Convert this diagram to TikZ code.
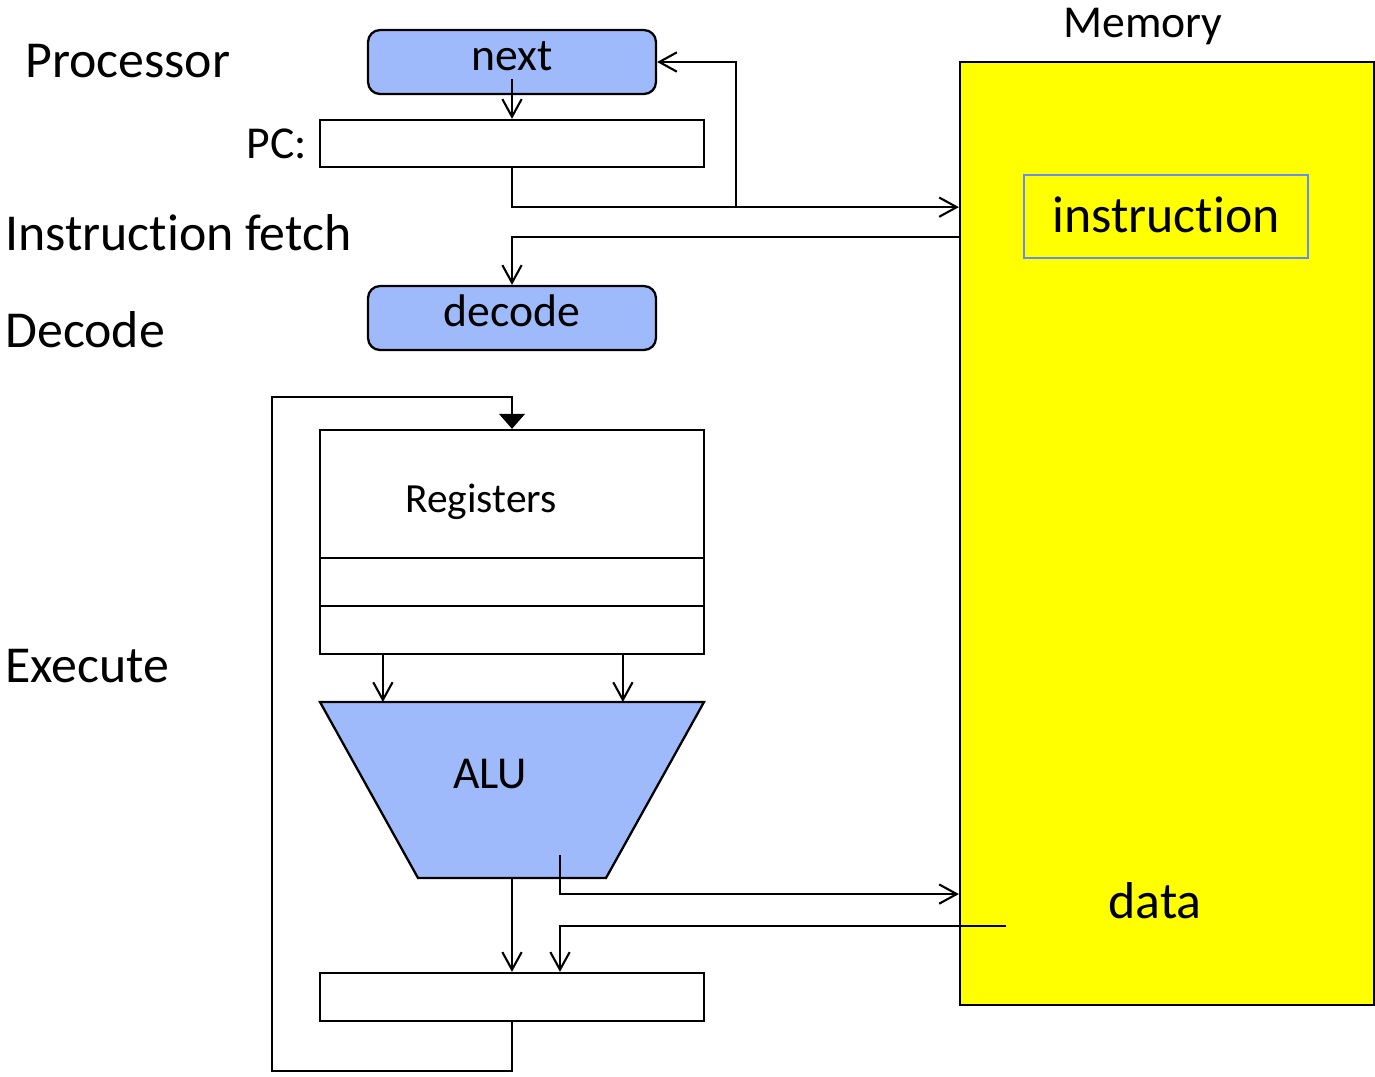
\documentclass[tikz,border=0pt]{standalone}
\usepackage{fontspec}
\setmainfont{Carlito}[Ligatures={NoCommon,NoContextual},RawFeature=-calt]
\usetikzlibrary{arrows.meta,calc}

\definecolor{boxblue}{RGB}{159,186,250}
\definecolor{memyellow}{RGB}{255,255,0}
\definecolor{instblue}{RGB}{100,140,250}

\tikzset{
  big/.style={font=\fontsize{29.5}{34}\selectfont},
  mid/.style={font=\fontsize{26}{30}\selectfont},
  lbl/.style={big, inner sep=0pt, anchor=base west},
  bluebox/.style={draw, line width=1.3pt, fill=boxblue, rounded corners=0.24cm,
    minimum width=5.76cm, minimum height=1.28cm, inner sep=0pt, mid,
    text height=20pt, text depth=10.5pt},
  plainbox/.style={draw, line width=1.3pt, fill=white, minimum width=7.68cm, inner sep=0pt},
  wire/.style={line width=1.2pt, -{Straight Barb[length=10pt,width=11pt,line width=1.2pt]}},
  feed/.style={line width=1.2pt, -{Triangle[length=8.5pt,width=14.5pt]}}
}

\begin{document}
\begin{tikzpicture}[x=0.02cm,y=-0.02cm]
  \useasboundingbox (0,0) rectangle (1375,1076);

  % stage labels
  \node[lbl] (proc)  at (25,77)  {Processor};
  \node[lbl] (fetch) at (5,250)  {Instruction fetch};
  \node[lbl] (dec)   at (5,347)  {Decode};
  \node[lbl] (exe)   at (5,682)  {Execute};

  % memory
  \node[draw, line width=1.3pt, fill=memyellow, minimum width=8.28cm, minimum height=18.86cm] (mem) at (1167,533.5) {};
  \node[mid, inner sep=0pt, anchor=base] (memlbl) at (1143,37) {Memory};
  \node[draw=instblue, line width=0.7pt, minimum width=5.68cm, minimum height=1.66cm, big,
    text height=22pt, text depth=3.3pt] (inst) at (1166,216.5) {instruction};
  \node[big, inner sep=0pt, anchor=base] (data) at (1155,918) {data};

  % fetch
  \node[bluebox] (next) at (512,62) {next};
  \node[plainbox, minimum height=0.94cm] (pc) at (512,143.5) {};
  \node[mid, inner sep=0pt, anchor=base east] (pclbl) at (307,158) {PC:};
  \node[bluebox] (decode) at (512,318) {decode};

  % registers
  \node[plainbox, minimum height=2.56cm] (reg1) at (512,494) {};
  \node[plainbox, minimum height=0.96cm] (reg2) at (512,582) {};
  \node[plainbox, minimum height=0.96cm] (reg3) at (512,630) {};
  \node[font=\fontsize{23.6}{28}\selectfont, inner sep=0pt, anchor=base] (reglbl) at (481,512) {Registers};

  % ALU
  \draw[line width=1.3pt, fill=boxblue] (320,702) coordinate (alutl) -- (704,702) coordinate (alutr)
    -- (606,878) coordinate (alubr) -- (418,878) coordinate (alubl) -- cycle;
  \node[mid, inner sep=0pt, anchor=base] (alu) at (490,788) {ALU};

  % result register
  \node[plainbox, minimum height=0.96cm] (outbox) at (512,997) {};

  % wires
  \draw[wire] ($(next.south)+(0,-16)$) -- (pc.north);
  \draw[wire] (pc.south) -- ++(0,39) coordinate (pcj) -- (pcj -| mem.west);
  \draw[wire] ($(pcj)+(224,0)$) |- (next.east);
  \draw[wire] ($(mem.north west)+(0,176)$) -| (decode.north);

  \coordinate (regL) at ($(reg3.south west)+(64,0)$);
  \coordinate (regR) at ($(reg3.south west)+(304,0)$);
  \draw[wire] (regL) -- (regL |- alutl);
  \draw[wire] (regR) -- (regR |- alutl);

  \coordinate (alubot) at ($(alubl)!0.5!(alubr)$);
  \draw[wire] (alubot) -- (alubot |- outbox.north);
  \coordinate (aluout) at ($(alubl)+(142,-23)$);
  \draw[wire] (aluout) |- ($(mem.south west)+(0,-112)$);
  \draw[wire] ($(mem.south west)+(47,-80)$) -| ($(outbox.north)+(48,0)$);

  % write back
  \draw[feed] (outbox.south) -- ++(0,49) -- ++(-240,0) |- ($(reg1.north)+(0,-32)$) -- (reg1.north);
\end{tikzpicture}
\end{document}
